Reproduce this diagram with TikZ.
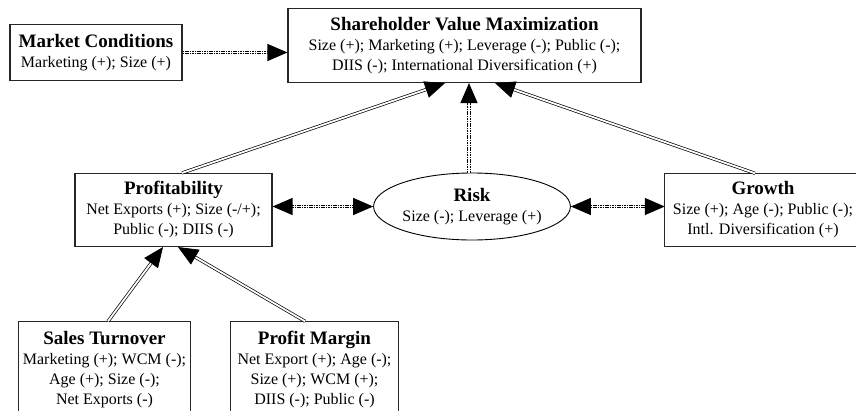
\documentclass[tikz,border=0pt]{standalone}
\usepackage{fontspec}
\setmainfont{Liberation Serif}
\usetikzlibrary{arrows.meta,shapes.geometric,calc}
\begin{document}
\begin{tikzpicture}[x=1pt,y=-1pt,
  txt/.style={rectangle,inner sep=0pt,align=center,font=\fontsize{16}{20}\selectfont},
  box/.style={txt,draw=black!85,line width=1.1pt},
  boxline/.style={draw=black!85,line width=1.1pt},
  oval/.style={draw=black,line width=0.9pt,ellipse,inner sep=0pt,align=center,
    font=\fontsize{16}{20}\selectfont},
  dbl/.style={draw=black,line width=0.7pt,double=white,double distance=1.8pt,
    -{Triangle[length=20pt,width=17pt]}},
  dotl/.style={draw=black,line width=1.2pt,double=white,double distance=1.2pt,
    dash pattern=on 1.6pt off 0.8pt},
  tip/.style={-{Triangle[length=20pt,width=17pt]}},
  tips/.style={{Triangle[length=20pt,width=17pt]}-{Triangle[length=20pt,width=17pt]}}]
\useasboundingbox (0,0) rectangle (856,410);
\newcommand{\ttl}[1]{{\fontsize{19}{20}\selectfont\bfseries #1}}

\node[box,minimum width=172pt,minimum height=56pt] (mc) at (96,52.5)
  {\ttl{Market Conditions}\\Marketing (+); Size (+)};
\node[box,minimum width=353pt,minimum height=74pt] (sh) at (464.5,45.5)
  {\ttl{Shareholder Value Maximization}\\Size (+); Marketing (+); Leverage (-); Public (-);\\DIIS (-); International Diversification (+)};
\node[box,minimum width=197pt,minimum height=73pt] (prof) at (173.5,210)
  {\ttl{Profitability}\\Net Exports (+); Size (-/+);\\Public (-); DIIS (-)};
\node[oval,minimum width=188pt,minimum height=67pt] (risk) at (472,206.5)
  {\ttl{Risk}\\Size (-); Leverage (+)};
\node[txt,minimum width=196pt,minimum height=73pt] (gr) at (763,210)
  {\ttl{Growth}\\Size (+); Age (-); Public (-);\\Intl. Diversification (+)};
\draw[boxline] (gr.north west) rectangle ($(gr.south east)+(20,0)$);
\node[txt,minimum width=172pt,minimum height=96pt] (st) at (104.5,369.5)
  {\ttl{Sales Turnover}\\Marketing (+); WCM (-);\\Age (+); Size (-);\\Net Exports (-)};
\draw[boxline] (st.north west) rectangle ($(st.south east)+(0,15)$);
\node[txt,minimum width=167pt,minimum height=96pt] (pm) at (314.5,369.5)
  {\ttl{Profit Margin}\\Net Export (+); Age (-);\\Size (+); WCM (+);\\DIIS (-); Public (-)};
\draw[boxline] (pm.north west) rectangle ($(pm.south east)+(0,15)$);

% dotted connectors
\draw[dotl,tip] (mc.east) -- (sh.west |- mc.east);
\draw[dotl,tip] ($(risk.north)+(-3,0)$) -- ($(sh.south)+(4.5,0)$);
\draw[dotl,tips] (prof.east |- risk.west) -- (risk.west);
\draw[dotl,tips] (risk.east) -- (gr.west |- risk.east);

% double connectors
\draw[dbl] ($(prof.north)+(8.5,0)$) -- ($(sh.south)+(-19.5,0)$);
\draw[dbl] ($(gr.north)+(-8,0)$) -- ($(sh.south)+(30.5,0)$);
\draw[dbl] ($(st.north)+(3.5,0)$) -- ($(prof.south)+(-10.5,0)$);
\draw[dbl] ($(pm.north)+(-9.5,0)$) -- ($(prof.south)+(4.5,0)$);
\end{tikzpicture}
\end{document}
